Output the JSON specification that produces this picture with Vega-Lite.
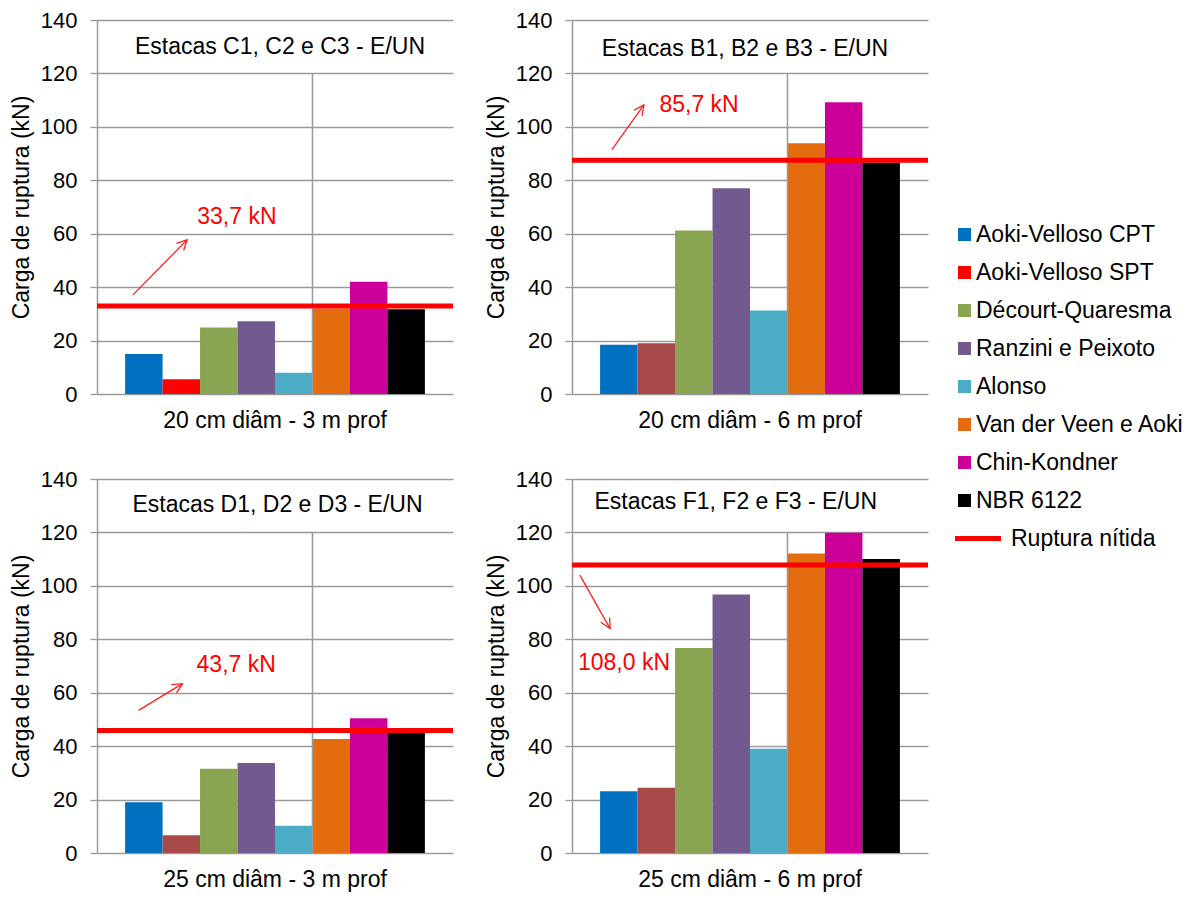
{
  "$schema": "https://vega.github.io/schema/vega-lite/v6.json",
  "background": "white",
  "padding": {"left": 10, "top": 9, "right": 5, "bottom": 2},
  "data": {
    "values": [
      {"kind": "bar", "panel": "20 cm diâm - 3 m prof", "method": "Aoki-Velloso CPT", "value": 15.0},
      {"kind": "bar", "panel": "20 cm diâm - 3 m prof", "method": "Aoki-Velloso SPT", "value": 5.5},
      {"kind": "bar", "panel": "20 cm diâm - 3 m prof", "method": "Décourt-Quaresma", "value": 24.9},
      {"kind": "bar", "panel": "20 cm diâm - 3 m prof", "method": "Ranzini e Peixoto", "value": 27.2},
      {"kind": "bar", "panel": "20 cm diâm - 3 m prof", "method": "Alonso", "value": 8.0},
      {"kind": "bar", "panel": "20 cm diâm - 3 m prof", "method": "Van der Veen e Aoki", "value": 32.0},
      {"kind": "bar", "panel": "20 cm diâm - 3 m prof", "method": "Chin-Kondner", "value": 42.0},
      {"kind": "bar", "panel": "20 cm diâm - 3 m prof", "method": "NBR 6122", "value": 31.7},
      {"kind": "bar", "panel": "20 cm diâm - 6 m prof", "method": "Aoki-Velloso CPT", "value": 18.4},
      {"kind": "bar", "panel": "20 cm diâm - 6 m prof", "method": "Aoki-Velloso SPT", "value": 19.0},
      {"kind": "bar", "panel": "20 cm diâm - 6 m prof", "method": "Décourt-Quaresma", "value": 61.2},
      {"kind": "bar", "panel": "20 cm diâm - 6 m prof", "method": "Ranzini e Peixoto", "value": 77.0},
      {"kind": "bar", "panel": "20 cm diâm - 6 m prof", "method": "Alonso", "value": 31.3},
      {"kind": "bar", "panel": "20 cm diâm - 6 m prof", "method": "Van der Veen e Aoki", "value": 93.9},
      {"kind": "bar", "panel": "20 cm diâm - 6 m prof", "method": "Chin-Kondner", "value": 109.2},
      {"kind": "bar", "panel": "20 cm diâm - 6 m prof", "method": "NBR 6122", "value": 86.7},
      {"kind": "bar", "panel": "25 cm diâm - 3 m prof", "method": "Aoki-Velloso CPT", "value": 19.0},
      {"kind": "bar", "panel": "25 cm diâm - 3 m prof", "method": "Aoki-Velloso SPT", "value": 6.6},
      {"kind": "bar", "panel": "25 cm diâm - 3 m prof", "method": "Décourt-Quaresma", "value": 31.5},
      {"kind": "bar", "panel": "25 cm diâm - 3 m prof", "method": "Ranzini e Peixoto", "value": 33.7},
      {"kind": "bar", "panel": "25 cm diâm - 3 m prof", "method": "Alonso", "value": 10.2},
      {"kind": "bar", "panel": "25 cm diâm - 3 m prof", "method": "Van der Veen e Aoki", "value": 42.7},
      {"kind": "bar", "panel": "25 cm diâm - 3 m prof", "method": "Chin-Kondner", "value": 50.4},
      {"kind": "bar", "panel": "25 cm diâm - 3 m prof", "method": "NBR 6122", "value": 45.2},
      {"kind": "bar", "panel": "25 cm diâm - 6 m prof", "method": "Aoki-Velloso CPT", "value": 23.1},
      {"kind": "bar", "panel": "25 cm diâm - 6 m prof", "method": "Aoki-Velloso SPT", "value": 24.4},
      {"kind": "bar", "panel": "25 cm diâm - 6 m prof", "method": "Décourt-Quaresma", "value": 76.7},
      {"kind": "bar", "panel": "25 cm diâm - 6 m prof", "method": "Ranzini e Peixoto", "value": 96.8},
      {"kind": "bar", "panel": "25 cm diâm - 6 m prof", "method": "Alonso", "value": 39.0},
      {"kind": "bar", "panel": "25 cm diâm - 6 m prof", "method": "Van der Veen e Aoki", "value": 112.1},
      {"kind": "bar", "panel": "25 cm diâm - 6 m prof", "method": "Chin-Kondner", "value": 119.9},
      {"kind": "bar", "panel": "25 cm diâm - 6 m prof", "method": "NBR 6122", "value": 110.1},
      {"kind": "ann", "panel": "20 cm diâm - 3 m prof", "rupture": 32.9, "label": "33,7 kN", "title": "Estacas C1, C2 e C3 - E/UN", "arrowX0": 10.1, "arrowY0": 37.1, "arrowX1": 25.3, "arrowY1": 57.7, "arrowAngle": 44.5, "labelX": 39.3, "labelY": 66.3, "titleX": 51.4, "titleY": 130.0},
      {"kind": "ann", "panel": "20 cm diâm - 6 m prof", "rupture": 87.5, "label": "85,7 kN", "title": "Estacas B1, B2 e B3 - E/UN", "arrowX0": 11.2, "arrowY0": 91.5, "arrowX1": 20.2, "arrowY1": 108.2, "arrowAngle": 35.9, "labelX": 35.7, "labelY": 108.2, "titleX": 48.6, "titleY": 129.2},
      {"kind": "ann", "panel": "25 cm diâm - 3 m prof", "rupture": 45.9, "label": "43,7 kN", "title": "Estacas D1, D2 e D3 - E/UN", "arrowX0": 11.7, "arrowY0": 53.4, "arrowX1": 24.0, "arrowY1": 63.4, "arrowAngle": 58.8, "labelX": 39.1, "labelY": 70.3, "titleX": 50.7, "titleY": 130.4},
      {"kind": "ann", "panel": "25 cm diâm - 6 m prof", "rupture": 107.8, "label": "108,0 kN", "title": "Estacas F1, F2 e F3 - E/UN", "arrowX0": 2.2, "arrowY0": 104.0, "arrowX1": 10.7, "arrowY1": 84.0, "arrowAngle": 150.7, "labelX": 14.6, "labelY": 71.1, "titleX": 46.0, "titleY": 131.4}
    ]
  },
  "columns": 2,
  "spacing": {"row": 35, "column": 29},
  "facet": {
    "field": "panel",
    "type": "nominal",
    "sort": ["20 cm diâm - 3 m prof", "20 cm diâm - 6 m prof", "25 cm diâm - 3 m prof", "25 cm diâm - 6 m prof"],
    "header": {"title": null, "labelOrient": "bottom", "labelFontSize": 23, "labelFont": "Liberation Sans", "labelColor": "#000000", "labelPadding": 5}
  },
  "spec": {
    "width": 356,
    "height": 374,
    "layer": [
      {
        "layer": [
          {
            "transform": [{"filter": "datum.kind === 'bar'"}],
            "mark": {"type": "bar"},
            "encoding": {
              "x": {
                "field": "method", "type": "nominal",
                "scale": {"domain": ["Aoki-Velloso CPT", "Aoki-Velloso SPT", "Décourt-Quaresma", "Ranzini e Peixoto", "Alonso", "Van der Veen e Aoki", "Chin-Kondner", "NBR 6122"], "paddingInner": 0, "paddingOuter": 0.75},
                "axis": null
              },
              "y": {
                "field": "value", "type": "quantitative",
                "scale": {"domain": [0, 140]},
                "axis": {"values": [0, 20, 40, 60, 80, 100, 120, 140], "title": "Carga de ruptura (kN)"}
              },
              "color": {
                "condition": {"test": "datum.method === 'Aoki-Velloso SPT' && datum.panel !== '20 cm diâm - 3 m prof'", "value": "#A84A49"},
                "field": "method", "type": "nominal",
                "scale": {
                  "domain": ["Aoki-Velloso CPT", "Aoki-Velloso SPT", "Décourt-Quaresma", "Ranzini e Peixoto", "Alonso", "Van der Veen e Aoki", "Chin-Kondner", "NBR 6122", "Ruptura nítida"],
                  "range": ["#0070C0", "#FF0000", "#8AA551", "#725A8F", "#4BACC6", "#E36C0E", "#CC0099", "#000000", "#FF0000"]
                },
                "legend": {
                  "title": null,
                  "orient": "none",
                  "legendX": 856,
                  "legendY": 203,
                  "labelFontSize": 23,
                  "labelFont": "Liberation Sans",
                  "labelColor": "#000000",
                  "labelOffset": 0,
                  "symbolType": "square",
                  "symbolSize": 169,
                  "symbolStrokeWidth": 0,
                  "rowPadding": 14,
                  "labelLimit": 400,
                  "encode": {
                    "symbols": {"update": {
                      "shape": {"signal": "datum.value === 'Ruptura nítida' ? 'M -0.95 0 L 3.65 0' : 'square'"},
                      "size": {"signal": "datum.value === 'Ruptura nítida' ? 400 : 169"},
                      "stroke": {"signal": "datum.value === 'Ruptura nítida' ? '#FF0000' : 'transparent'"},
                      "strokeWidth": {"signal": "datum.value === 'Ruptura nítida' ? 5 : 0"}
                    }},
                    "labels": {"update": {
                      "dx": {"signal": "datum.value === 'Ruptura nítida' ? 35 : 0"}
                    }}
                  }
                }
              }
            }
          },
          {
            "transform": [{"filter": "datum.kind === 'ann'"}],
            "mark": {"type": "rule", "color": "#9A9A9A", "strokeWidth": 1.5},
            "encoding": {
              "x": {"datum": "Van der Veen e Aoki", "type": "nominal", "bandPosition": 0},
              "y": {"datum": 0, "type": "quantitative"},
              "y2": {"datum": 120}
            }
          },
          {
            "transform": [{"filter": "datum.kind === 'ann'"}],
            "mark": {"type": "rule", "color": "#FF0000", "strokeWidth": 5},
            "encoding": {
              "y": {"field": "rupture", "type": "quantitative"}
            }
          }
        ]
      },
      {
        "transform": [{"filter": "datum.kind === 'ann'"}],
        "layer": [
          {
            "mark": {"type": "rule", "color": "#FF2020", "strokeWidth": 1.3},
            "encoding": {
              "x": {"field": "arrowX0", "type": "quantitative", "scale": {"domain": [0, 100]}, "axis": null},
              "y": {"field": "arrowY0", "type": "quantitative"},
              "x2": {"field": "arrowX1"},
              "y2": {"field": "arrowY1"}
            }
          },
          {
            "mark": {"type": "point", "shape": "M -0.5 1 L 0 0 L 0.5 1", "filled": false, "stroke": "#FF2020", "strokeWidth": 1.3, "size": 400, "opacity": 1},
            "encoding": {
              "x": {"field": "arrowX1", "type": "quantitative"},
              "y": {"field": "arrowY1", "type": "quantitative"},
              "angle": {"field": "arrowAngle", "type": "quantitative", "scale": null}
            }
          },
          {
            "mark": {"type": "text", "color": "#FF0000", "fontSize": 23, "font": "Liberation Sans", "align": "center", "baseline": "middle"},
            "encoding": {
              "x": {"field": "labelX", "type": "quantitative"},
              "y": {"field": "labelY", "type": "quantitative"},
              "text": {"field": "label"}
            }
          },
          {
            "mark": {"type": "text", "color": "#000000", "fontSize": 23, "font": "Liberation Sans", "align": "center", "baseline": "middle"},
            "encoding": {
              "x": {"field": "titleX", "type": "quantitative"},
              "y": {"field": "titleY", "type": "quantitative"},
              "text": {"field": "title"}
            }
          }
        ]
      }
    ],
    "resolve": {"scale": {"x": "independent"}}
  },
  "resolve": {"axis": {"y": "independent"}},
  "config": {
    "font": "Liberation Sans",
    "view": {"stroke": null},
    "axisY": {
      "grid": true,
      "gridColor": "#9A9A9A",
      "gridWidth": 1.3,
      "domain": true,
      "domainColor": "#9A9A9A",
      "domainWidth": 1.5,
      "ticks": true,
      "tickColor": "#9A9A9A",
      "tickWidth": 1.3,
      "tickSize": 7,
      "labelFontSize": 22,
      "labelColor": "#000000",
      "labelPadding": 13,
      "titleFontSize": 23,
      "titleFontWeight": "normal",
      "titleColor": "#000000",
      "titlePadding": 7
    }
  }
}
